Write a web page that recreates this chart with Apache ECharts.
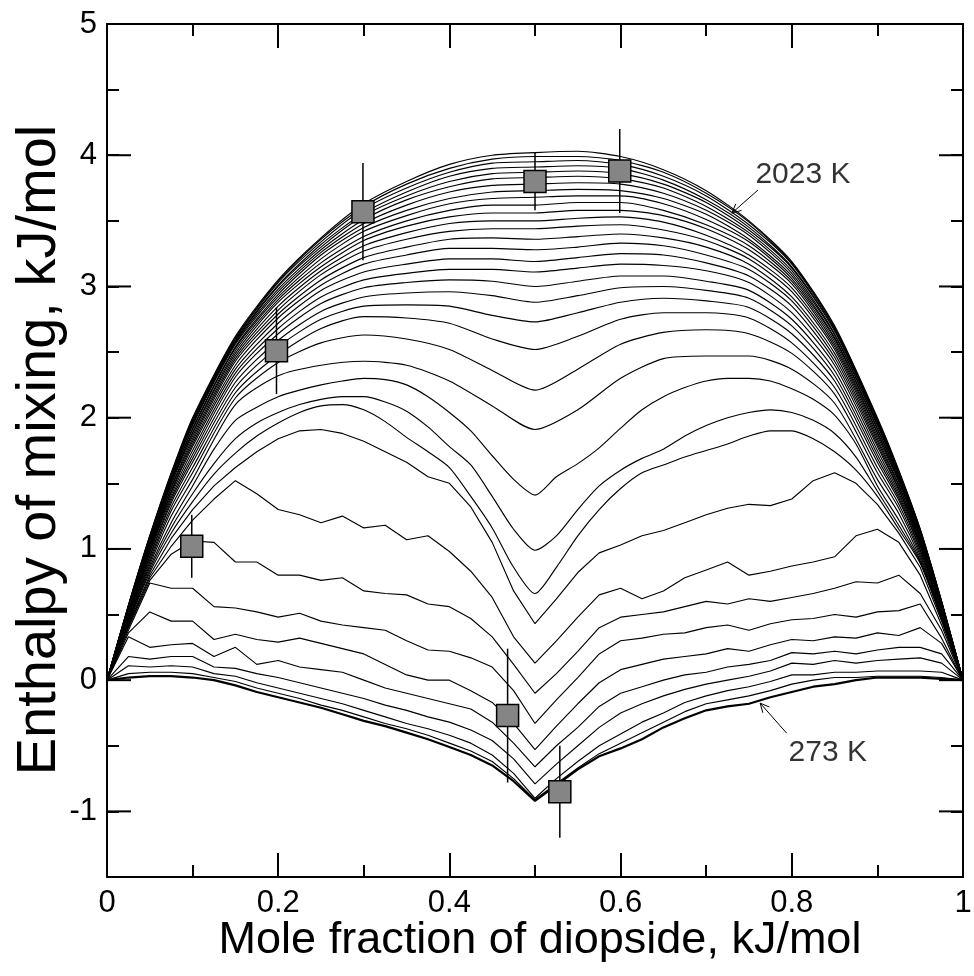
<!DOCTYPE html>
<html><head><meta charset="utf-8">
<script src="https://cdn.jsdelivr.net/npm/echarts/dist/echarts.min.js"></script>
<style>html,body{margin:0;padding:0;background:#fff}#c{width:974px;height:976px}</style>
</head><body><div id="c"></div>
<script>
// ---------- x grids (mole fraction of diopside) ----------
const xCoarse = [0, 0.025, 0.05, 0.075, 0.1, 0.15, 0.2, 0.25, 0.3, 0.35, 0.4, 0.45, 0.5, 0.55, 0.6, 0.65, 0.7, 0.75, 0.8, 0.85, 0.9, 0.925, 0.95, 0.975, 1];
const xFine = [0, 0.025, 0.05, 0.075, 0.1, 0.125, 0.15, 0.175, 0.2, 0.225, 0.25, 0.275, 0.3, 0.325, 0.35, 0.375, 0.4, 0.425, 0.45, 0.475, 0.5, 0.525, 0.55, 0.575, 0.6, 0.625, 0.65, 0.675, 0.7, 0.725, 0.75, 0.775, 0.8, 0.825, 0.85, 0.875, 0.9, 0.925, 0.95, 0.975, 1];

// ---------- enthalpy of mixing (kJ/mol), high temperatures, on xCoarse ----------
const T2023 = [0, .57, 1.10, 1.58, 2.00, 2.62, 3.05, 3.37, 3.63, 3.80, 3.93, 4.00, 4.02, 4.03, 3.99, 3.89, 3.73, 3.50, 3.19, 2.70, 2.00, 1.60, 1.15, .60, 0];
const T1973 = [0, .57, 1.10, 1.57, 1.99, 2.61, 3.04, 3.36, 3.61, 3.78, 3.90, 3.97, 3.99, 3.99, 3.96, 3.87, 3.71, 3.49, 3.18, 2.69, 1.99, 1.59, 1.15, .60, 0];
const T1923 = [0, .57, 1.09, 1.57, 1.98, 2.60, 3.03, 3.34, 3.59, 3.75, 3.87, 3.94, 3.95, 3.96, 3.93, 3.84, 3.69, 3.47, 3.17, 2.68, 1.98, 1.59, 1.14, .60, 0];
const T1873 = [0, .56, 1.09, 1.56, 1.97, 2.59, 3.01, 3.32, 3.56, 3.72, 3.84, 3.90, 3.91, 3.92, 3.90, 3.81, 3.66, 3.45, 3.15, 2.67, 1.97, 1.58, 1.14, .59, 0];
const T1823 = [0, .56, 1.08, 1.55, 1.96, 2.58, 3.00, 3.30, 3.54, 3.69, 3.80, 3.86, 3.87, 3.88, 3.86, 3.78, 3.64, 3.43, 3.14, 2.66, 1.96, 1.57, 1.13, .59, 0];
const T1773 = [0, .56, 1.08, 1.55, 1.95, 2.57, 2.98, 3.28, 3.51, 3.66, 3.76, 3.82, 3.83, 3.84, 3.82, 3.75, 3.61, 3.41, 3.12, 2.64, 1.95, 1.57, 1.13, .59, 0];
const T1723 = [0, .56, 1.07, 1.54, 1.94, 2.56, 2.96, 3.26, 3.48, 3.62, 3.72, 3.77, 3.78, 3.79, 3.78, 3.71, 3.58, 3.39, 3.10, 2.63, 1.94, 1.56, 1.12, .59, 0];
const T1673 = [0, .55, 1.06, 1.53, 1.92, 2.54, 2.94, 3.24, 3.45, 3.58, 3.67, 3.72, 3.73, 3.74, 3.73, 3.67, 3.55, 3.36, 3.08, 2.61, 1.92, 1.55, 1.11, .58, 0];
const T1623 = [0, .55, 1.06, 1.52, 1.91, 2.53, 2.92, 3.21, 3.42, 3.54, 3.63, 3.67, 3.68, 3.69, 3.69, 3.63, 3.51, 3.34, 3.06, 2.60, 1.91, 1.54, 1.11, .58, 0];
const T1573 = [0, .55, 1.05, 1.51, 1.89, 2.51, 2.90, 3.18, 3.38, 3.50, 3.58, 3.62, 3.62, 3.64, 3.64, 3.58, 3.47, 3.31, 3.04, 2.58, 1.89, 1.53, 1.10, .58, 0];
const T1523 = [0, .54, 1.04, 1.50, 1.88, 2.49, 2.88, 3.15, 3.35, 3.46, 3.53, 3.56, 3.56, 3.58, 3.58, 3.54, 3.44, 3.28, 3.02, 2.56, 1.88, 1.52, 1.09, .57, 0];
const T1473 = [0, .54, 1.03, 1.49, 1.86, 2.47, 2.85, 3.12, 3.31, 3.41, 3.48, 3.50, 3.50, 3.52, 3.53, 3.49, 3.39, 3.24, 2.99, 2.54, 1.86, 1.51, 1.08, .57, 0];
const T1423 = [0, .53, 1.02, 1.47, 1.84, 2.45, 2.82, 3.09, 3.27, 3.36, 3.42, 3.44, 3.44, 3.46, 3.47, 3.43, 3.35, 3.21, 2.96, 2.52, 1.84, 1.49, 1.07, .56, 0];
const T1373 = [0, .53, 1.01, 1.46, 1.82, 2.43, 2.79, 3.05, 3.22, 3.30, 3.36, 3.37, 3.36, 3.38, 3.40, 3.37, 3.30, 3.17, 2.92, 2.49, 1.82, 1.48, 1.06, .56, 0];
const T1323 = [0, .52, 1.00, 1.44, 1.80, 2.40, 2.76, 3.01, 3.17, 3.24, 3.29, 3.29, 3.28, 3.30, 3.33, 3.31, 3.24, 3.13, 2.89, 2.46, 1.80, 1.46, 1.05, .55, 0];
const T1273 = [0, .52, .99, 1.43, 1.78, 2.37, 2.72, 2.97, 3.11, 3.17, 3.21, 3.21, 3.19, 3.22, 3.25, 3.24, 3.18, 3.08, 2.85, 2.43, 1.78, 1.45, 1.04, .55, 0];
const T1223 = [0, .51, .98, 1.41, 1.75, 2.34, 2.68, 2.92, 3.05, 3.10, 3.13, 3.13, 3.11, 3.14, 3.17, 3.16, 3.12, 3.03, 2.80, 2.40, 1.75, 1.43, 1.03, .54, 0];
const T1173 = [0, .50, .97, 1.39, 1.72, 2.31, 2.64, 2.87, 2.99, 3.03, 3.05, 3.04, 3.00, 3.04, 3.08, 3.08, 3.04, 2.97, 2.75, 2.36, 1.72, 1.41, 1.02, .53, 0];
const T1123 = [0, .50, .95, 1.37, 1.69, 2.27, 2.59, 2.81, 2.92, 2.95, 2.96, 2.93, 2.88, 2.93, 2.99, 3.00, 2.97, 2.91, 2.70, 2.32, 1.69, 1.39, 1.00, .53, 0];
const T1073 = [0, .49, .94, 1.35, 1.66, 2.23, 2.54, 2.75, 2.85, 2.86, 2.85, 2.78, 2.73, 2.80, 2.88, 2.91, 2.89, 2.84, 2.64, 2.28, 1.66, 1.37, .99, .52, 0];
const T1023 = [0, .48, .92, 1.32, 1.62, 2.19, 2.48, 2.68, 2.77, 2.76, 2.72, 2.60, 2.52, 2.62, 2.75, 2.80, 2.80, 2.76, 2.57, 2.23, 1.62, 1.34, .97, .51, 0];
const T973  = [0, .47, .90, 1.29, 1.58, 2.15, 2.42, 2.57, 2.63, 2.60, 2.52, 2.36, 2.21, 2.37, 2.56, 2.65, 2.67, 2.64, 2.49, 2.18, 1.58, 1.31, .95, .50, 0];
const T923  = [0, .46, .88, 1.25, 1.53, 2.10, 2.32, 2.40, 2.43, 2.40, 2.28, 2.09, 1.91, 2.06, 2.30, 2.45, 2.47, 2.47, 2.37, 2.11, 1.53, 1.27, .93, .49, 0];

// ---------- low temperatures, on xFine ----------
const T873 = [0, .45, .86, 1.20, 1.48, 1.76, 1.98, 2.08, 2.16, 2.21, 2.25, 2.28, 2.30, 2.29, 2.25, 2.16, 2.04, 1.90, 1.71, 1.53, 1.41, 1.55, 1.65, 1.77, 1.92, 2.06, 2.16, 2.23, 2.28, 2.30, 2.30, 2.28, 2.22, 2.14, 2.02, 1.80, 1.48, 1.22, .91, .48, 0];
const T823 = [0, .44, .84, 1.16, 1.42, 1.65, 1.84, 1.96, 2.04, 2.10, 2.14, 2.16, 2.16, 2.12, 2.05, 1.93, 1.78, 1.64, 1.40, 1.15, .99, 1.10, 1.30, 1.48, 1.60, 1.69, 1.76, 1.86, 1.94, 2.00, 2.04, 2.06, 2.04, 1.98, 1.88, 1.70, 1.44, 1.18, .90, .47, 0];
const T773 = [0, .43, .82, 1.12, 1.36, 1.57, 1.73, 1.86, 1.96, 2.04, 2.09, 2.10, 2.06, 1.97, 1.85, 1.74, 1.62, 1.40, 1.16, .86, .66, .86, 1.10, 1.30, 1.46, 1.58, 1.64, 1.70, 1.75, 1.80, 1.86, 1.90, 1.90, 1.84, 1.74, 1.60, 1.40, 1.15, .89, .46, 0];
const T723 = [0, .42, .80, 1.08, 1.30, 1.48, 1.62, 1.74, 1.84, 1.90, 1.91, 1.88, 1.82, 1.74, 1.66, 1.55, 1.50, 1.32, 1.05, .68, .43, .62, .82, .97, 1.03, 1.10, 1.14, 1.20, 1.26, 1.31, 1.34, 1.33, 1.38, 1.52, 1.58, 1.50, 1.34, 1.12, .86, .45, 0];
const T673 = [0, .41, .78, 1.02, 1.22, 1.38, 1.52, 1.42, 1.30, 1.26, 1.20, 1.25, 1.16, 1.18, 1.07, 1.10, .98, .83, .63, .33, .13, .30, .48, .65, .70, .62, .68, .78, .84, .90, .80, .83, .87, .90, .94, 1.10, 1.15, 1.05, .80, .42, 0];
const T623 = [0, .40, .76, .96, 1.06, 1.05, .90, .90, .80, .80, .76, .78, .68, .66, .65, .58, .56, .47, .33, .12, -.10, .05, .22, .40, .48, .50, .52, .56, .60, .58, .62, .60, .63, .66, .70, .75, .74, .80, .66, .38, 0];
const T573 = [0, .38, .74, .70, .70, .56, .55, .52, .48, .51, .45, .42, .40, .38, .30, .23, .22, .17, .10, -.08, -.33, -.15, .02, .20, .30, .32, .35, .36, .40, .42, .38, .43, .46, .47, .50, .48, .52, .53, .58, .32, 0];
const T523 = [0, .36, .52, .45, .45, .31, .35, .31, .29, .32, .28, .24, .20, .12, .04, .00, .00, -.08, -.17, -.33, -.53, -.35, -.18, -.02, .08, .12, .16, .18, .20, .24, .22, .27, .31, .30, .33, .32, .36, .34, .40, .28, 0];
const T473 = [0, .33, .25, .27, .28, .18, .25, .12, .15, .10, .08, .06, .00, -.06, -.10, -.14, -.18, -.22, -.32, -.48, -.66, -.50, -.36, -.20, -.10, -.05, .00, .04, .06, .10, .12, .15, .21, .20, .22, .20, .23, .25, .25, .20, 0];
const T423 = [0, .18, .16, .18, .18, .10, .09, .05, .02, -.02, -.06, -.10, -.14, -.19, -.23, -.28, -.32, -.38, -.46, -.60, -.79, -.64, -.50, -.36, -.25, -.18, -.12, -.07, -.03, .00, .03, .07, .13, .12, .15, .13, .15, .16, .17, .13, 0];
const T373 = [0, .11, .10, .11, .10, .05, .03, -.02, -.06, -.10, -.14, -.18, -.23, -.28, -.33, -.37, -.42, -.48, -.57, -.71, -.90, -.75, -.62, -.50, -.41, -.32, -.25, -.17, -.12, -.08, -.05, -.01, .04, .04, .06, .06, .07, .07, .07, .06, 0];
const T323 = [0, .05, .06, .06, .05, .02, -.01, -.06, -.10, -.14, -.19, -.23, -.28, -.33, -.37, -.42, -.48, -.54, -.62, -.75, -.91, -.79, -.67, -.56, -.48, -.40, -.32, -.24, -.18, -.15, -.12, -.08, -.03, .00, .02, .02, .03, .03, .03, .02, 0];
const T273 = [0, .02, .03, .03, .02, .00, -.04, -.09, -.13, -.17, -.21, -.26, -.31, -.35, -.40, -.45, -.51, -.57, -.65, -.77, -.92, -.80, -.68, -.58, -.52, -.45, -.36, -.29, -.23, -.20, -.18, -.13, -.09, -.05, -.03, .00, .02, .02, .02, .01, 0];

// ---------- experimental points ----------
const expX   = [0.099, 0.198, 0.299, 0.5, 0.599, 0.468, 0.529];
const expY   = [1.02, 2.51, 3.57, 3.80, 3.88, -0.27, -0.85];
const expErr = [0.24, 0.33, 0.37, 0.22, 0.32, 0.51, 0.35];

// ---------- axis ticks / annotations / titles ----------
const yMajorTicks = [-1, 0, 1, 2, 3, 4, 5];
const annotText = ['2023 K', '273 K'];
const annotTextAt = [[0.813, 3.85], [0.842, -0.55]];
const arrowFrom = [[0.7605, 3.735], [0.794, -0.404]];
const arrowTo   = [[0.730, 3.559], [0.763, -0.175]];
const xTitle = 'Mole fraction of diopside, kJ/mol';
const yTitle = 'Enthalpy of mixing, kJ/mol';

const coarseCurves = [T2023, T1973, T1923, T1873, T1823, T1773, T1723, T1673, T1623, T1573, T1523, T1473, T1423, T1373, T1323, T1273, T1223, T1173, T1123, T1073, T1023, T973, T923];
const fineCurves = [T873, T823, T773, T723, T673, T623, T573, T523, T473, T423, T373, T323, T273];

const FONT = '"Liberation Sans", Arial, Helvetica, sans-serif';
const chart = echarts.init(document.getElementById('c'), null, {renderer: 'canvas'});

function curve(xs, ys, w, sm) {
  return {
    type: 'line', xAxisIndex: 0, yAxisIndex: 0,
    data: xs.map((x, k) => [x, ys[k]]),
    symbol: 'none', showSymbol: false, silent: true, animation: false,
    smooth: sm || false,
    lineStyle: {color: '#000', width: w || 1.15}, z: 2
  };
}

const series = [];
coarseCurves.forEach(c => series.push(curve(xCoarse, c, 1.15, 0.25)));
fineCurves.forEach((c, k) => series.push(curve(xFine, c, k === fineCurves.length - 1 ? 2.2 : 1.15, k < 3 ? 0.25 : false)));

// error bars
series.push({
  type: 'custom', xAxisIndex: 0, yAxisIndex: 0, silent: true, animation: false, z: 3,
  data: expX.map((x, k) => [x, expY[k], expErr[k]]),
  renderItem: (params, api) => {
    const x = api.value(0), y = api.value(1), e = api.value(2);
    const a = api.coord([x, y - e]), b = api.coord([x, y + e]);
    return {type: 'line', shape: {x1: a[0], y1: a[1], x2: b[0], y2: b[1]}, style: {stroke: '#000', lineWidth: 1.5}};
  }
});
// markers
series.push({
  type: 'scatter', xAxisIndex: 0, yAxisIndex: 0, silent: true, animation: false, z: 4,
  symbol: 'rect', symbolSize: 22,
  itemStyle: {color: '#858585', borderColor: '#000', borderWidth: 1.5, opacity: 1},
  data: expX.map((x, k) => [x, expY[k]])
});
// major y ticks (left & right)
series.push({
  type: 'custom', xAxisIndex: 0, yAxisIndex: 0, silent: true, animation: false, z: 5, clip: false,
  data: yMajorTicks.map(v => [0, v]),
  renderItem: (params, api) => {
    const v = api.value(1);
    const L = api.coord([0, v]), R = api.coord([1, v]);
    return {type: 'group', children: [
      {type: 'line', shape: {x1: L[0], y1: L[1], x2: L[0] + 24, y2: L[1]}, style: {stroke: '#000', lineWidth: 2}},
      {type: 'line', shape: {x1: R[0] - 24, y1: R[1], x2: R[0], y2: R[1]}, style: {stroke: '#000', lineWidth: 2}}
    ]};
  }
});
// annotation arrows (open V heads)
series.push({
  type: 'custom', xAxisIndex: 0, yAxisIndex: 0, silent: true, animation: false, z: 6, clip: false,
  data: arrowFrom.map((f, k) => [f[0], f[1], arrowTo[k][0], arrowTo[k][1]]),
  renderItem: (params, api) => {
    const a = api.coord([api.value(0), api.value(1)]);
    const b = api.coord([api.value(2), api.value(3)]);
    const ang = Math.atan2(b[1] - a[1], b[0] - a[0]);
    const h = 10, spread = 0.45;
    const p1 = [b[0] - h * Math.cos(ang - spread), b[1] - h * Math.sin(ang - spread)];
    const p2 = [b[0] - h * Math.cos(ang + spread), b[1] - h * Math.sin(ang + spread)];
    const st = {stroke: '#000', lineWidth: 1};
    return {type: 'group', children: [
      {type: 'line', shape: {x1: a[0], y1: a[1], x2: b[0], y2: b[1]}, style: st},
      {type: 'polyline', shape: {points: [p1, b, p2]}, style: Object.assign({fill: null}, st)}
    ]};
  }
});
// annotation texts
series.push({
  type: 'scatter', xAxisIndex: 0, yAxisIndex: 0, silent: true, animation: false, z: 6,
  symbolSize: 0,
  data: annotTextAt.map((p, k) => ({value: p, name: annotText[k]})),
  label: {show: true, position: 'inside', color: '#000', fontSize: 30, fontFamily: FONT, formatter: p => p.name}
});

const tickCommon = {show: true, inside: true, length: 24, lineStyle: {color: '#000', width: 2}};
const lineCommon = {show: true, onZero: false, lineStyle: {color: '#000', width: 2}};

chart.setOption({
  animation: false,
  backgroundColor: '#fff',
  textStyle: {fontFamily: FONT},
  grid: {left: 107, top: 24, right: 11, bottom: 99, containLabel: false, outerBoundsMode: 'none'},
  graphic: [
    {type: 'text', x: 540, y: 941, silent: true,
     style: {text: xTitle, fill: '#000', fontSize: 45, fontFamily: FONT, align: 'center', verticalAlign: 'middle'}},
    {type: 'text', x: 40, y: 450, rotation: Math.PI / 2, silent: true,
     style: {text: yTitle, fill: '#000', fontSize: 56, fontFamily: FONT, align: 'center', verticalAlign: 'middle'}}
  ],
  xAxis: [
    {type: 'value', position: 'bottom', min: 0, max: 1, interval: 0.2,
     axisLine: lineCommon, axisTick: tickCommon,
     minorTick: {show: true, splitNumber: 2, length: 12, lineStyle: {color: '#000', width: 2}},
     splitLine: {show: false}, minorSplitLine: {show: false},
     axisLabel: {color: '#000', fontSize: 31, margin: 11, fontFamily: FONT}},
    {type: 'value', position: 'top', min: 0, max: 1, interval: 0.2,
     axisLine: lineCommon, axisTick: tickCommon,
     minorTick: {show: true, splitNumber: 2, length: 12, lineStyle: {color: '#000', width: 2}},
     splitLine: {show: false}, axisLabel: {show: false}}
  ],
  yAxis: [
    {type: 'value', position: 'left', min: -1.5, max: 5, interval: 0.5,
     axisLine: lineCommon, axisTick: {show: true, inside: true, length: 12, lineStyle: {color: '#000', width: 2}},
     splitLine: {show: false},
     axisLabel: {color: '#000', fontSize: 31, margin: 10, fontFamily: FONT,
       formatter: v => (Number.isInteger(v) ? String(v) : '')}},
    {type: 'value', position: 'right', min: -1.5, max: 5, interval: 0.5,
     axisLine: lineCommon, axisTick: {show: true, inside: true, length: 12, lineStyle: {color: '#000', width: 2}},
     splitLine: {show: false}, axisLabel: {show: false}}
  ],
  series: series
});
</script></body></html>
